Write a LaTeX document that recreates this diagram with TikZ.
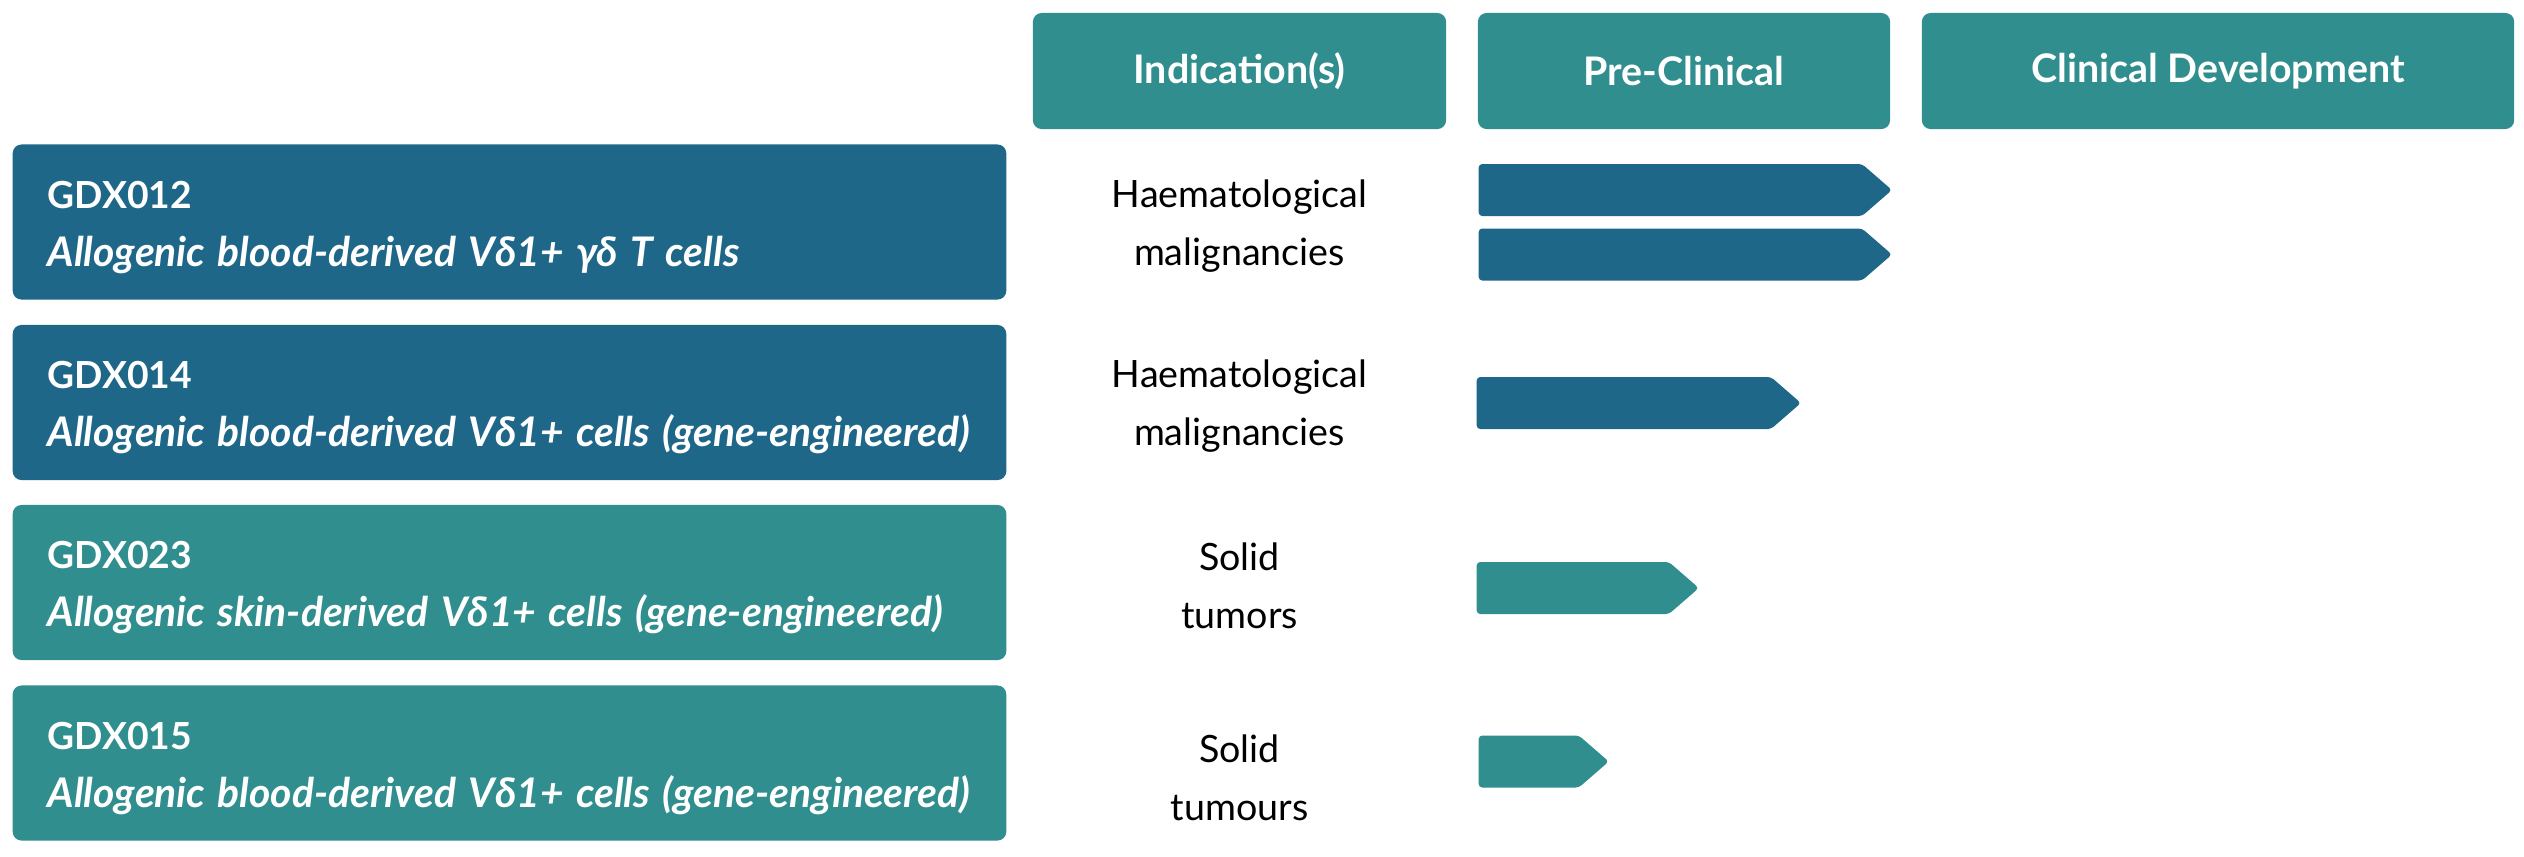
\documentclass[tikz,border=0pt]{standalone}
\usepackage{fontspec}
\setmainfont{Lato}
\usetikzlibrary{shapes.symbols}
\definecolor{gdxblue}{RGB}{31,103,137}
\definecolor{gdxteal}{RGB}{49,142,142}
\tikzstyle{header} = [rectangle, rounded corners=2.5pt, minimum height=1.16cm, inner sep=0pt, text=white, font=\bfseries\fontsize{11.2}{13}\selectfont]
\tikzstyle{candidate} = [rectangle, rounded corners=2.5pt, minimum width=9.93cm, minimum height=1.55cm, text width=9.23cm, inner xsep=0.35cm, align=left, text=white, font=\bfseries\fontsize{10.6}{16.5}\selectfont, execute at begin node=\rule{0pt}{10.8pt}]
\tikzstyle{indication} = [align=center, font=\fontsize{10.7}{16.5}\selectfont]
\tikzstyle{stage} = [signal, signal to=east, signal pointer angle=82, minimum height=0.52cm, inner sep=0pt, anchor=west, rounded corners=1pt]
\newcommand{\subtitle}[1]{{\fontsize{11.6}{16.5}\selectfont\itshape #1}}

\begin{document}
\begin{tikzpicture}[x=0.01cm, y=-0.01cm]
\useasboundingbox (0,0) rectangle (2524,856);

\node (hind) [header, fill=gdxteal, minimum width=4.13cm] at (1239.5,71) {Indication(s)};
\node (hpre) [header, fill=gdxteal, minimum width=4.12cm] at (1684,71) {Pre-Clinical};
\node (hclin) [header, fill=gdxteal, minimum width=5.92cm] at (2218,71) {Clinical Development};

\node (gdx012) [candidate, fill=gdxblue] at (509.5,222) {GDX012\\ \subtitle{Allogenic blood-derived Vδ1+ γδ T cells}};
\node (gdx014) [candidate, fill=gdxblue] at (509.5,402.5) {GDX014\\ \subtitle{Allogenic blood-derived Vδ1+ cells (gene-engineered)}};
\node (gdx023) [candidate, fill=gdxteal] at (509.5,582.5) {GDX023\\ \subtitle{Allogenic skin-derived Vδ1+ cells (gene-engineered)}};
\node (gdx015) [candidate, fill=gdxteal] at (509.5,763) {GDX015\\ \subtitle{Allogenic blood-derived Vδ1+ cells (gene-engineered)}};

\node (ind012) [indication] at (1239.5,226) {Haematological\\malignancies};
\node (ind014) [indication] at (1239.5,406) {Haematological\\malignancies};
\node (ind023) [indication] at (1239.5,586) {Solid\\tumors};
\node (ind015) [indication] at (1239.5,778) {Solid\\tumours};

\node (bar012a) [stage, fill=gdxblue, minimum width=4.13cm] at (1478,190) {};
\node (bar012b) [stage, fill=gdxblue, minimum width=4.13cm] at (1478,254.5) {};
\node (bar014) [stage, fill=gdxblue, minimum width=3.24cm] at (1476,403) {};
\node (bar023) [stage, fill=gdxteal, minimum width=2.22cm] at (1476,588) {};
\node (bar015) [stage, fill=gdxteal, minimum width=1.30cm] at (1478,761.5) {};
\end{tikzpicture}
\end{document}
